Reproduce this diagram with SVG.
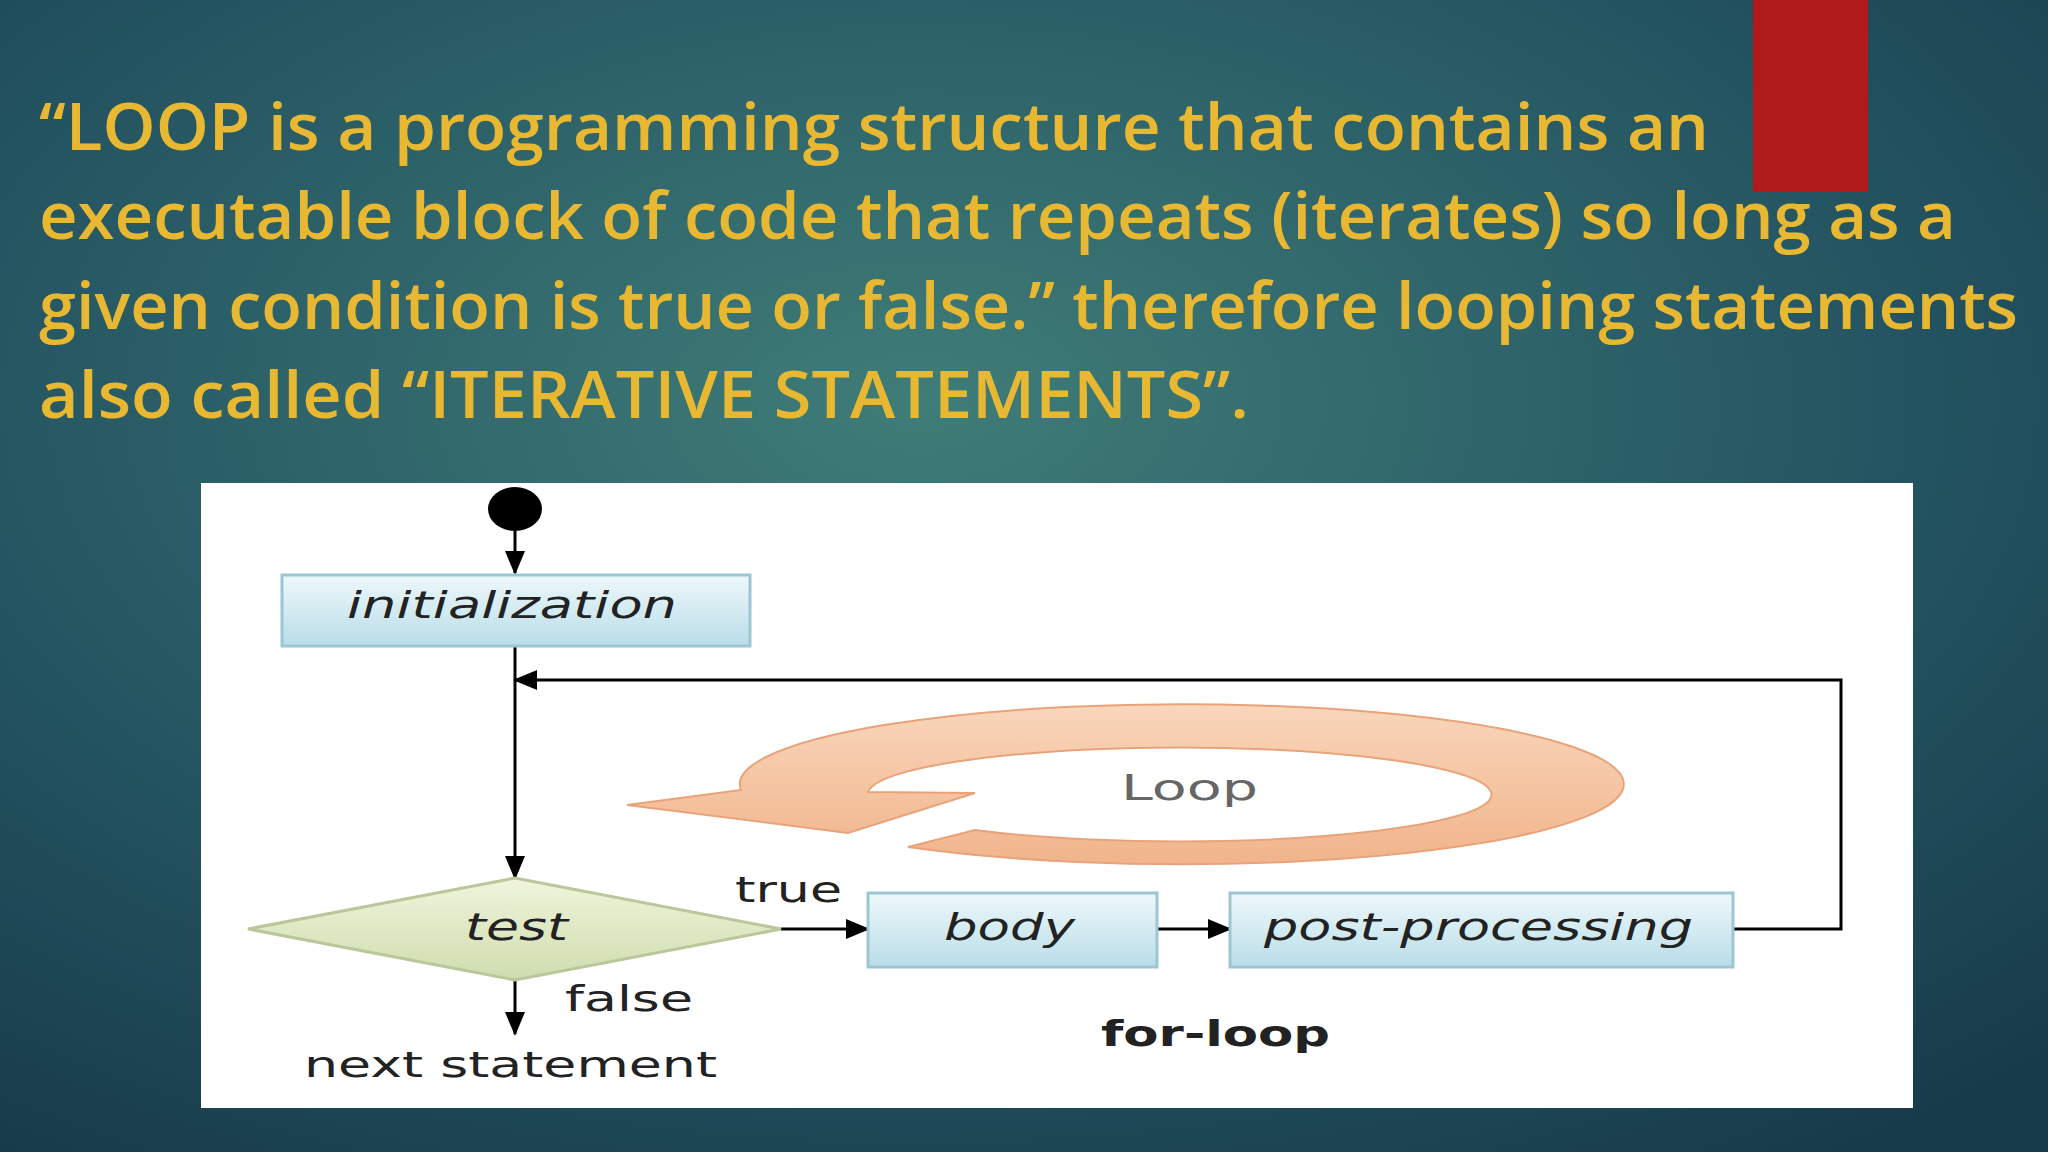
<svg xmlns="http://www.w3.org/2000/svg" width="2048" height="1152" viewBox="0 0 2048 1152">
<defs>
<radialGradient id="bg" cx="0.45" cy="0.35" r="0.8">
<stop offset="0" stop-color="#3f7d78"/><stop offset="0.6" stop-color="#245461"/><stop offset="1" stop-color="#173a4a"/>
</radialGradient>
<linearGradient id="box" x1="0" y1="0" x2="0" y2="1">
<stop offset="0" stop-color="#eef8fb"/><stop offset="1" stop-color="#b9dde8"/>
</linearGradient>
<linearGradient id="dia" x1="0" y1="0" x2="0" y2="1">
<stop offset="0" stop-color="#f0f5dc"/><stop offset="1" stop-color="#cfdcae"/>
</linearGradient>
<linearGradient id="peach" x1="0" y1="0" x2="0" y2="1">
<stop offset="0" stop-color="#f9d6bb"/><stop offset="1" stop-color="#f1b48b"/>
</linearGradient>
<marker id="ah" markerWidth="24" markerHeight="20" refX="22" refY="10" orient="auto" markerUnits="userSpaceOnUse" viewBox="0 0 24 20">
<path d="M0,0 L24,10 L0,20 z" fill="#000"/>
</marker>
<style>
.t{font-family:"Open Sans","Liberation Sans",sans-serif;font-weight:600;font-size:66px;fill:#e9b832}
.b{fill:url(#box);stroke:#9cc6d4;stroke-width:3}
.l{font-family:"DejaVu Sans",sans-serif;font-size:38px;fill:#222;font-style:italic}
.n{font-family:"DejaVu Sans",sans-serif;font-size:36px;fill:#222}
.c{stroke:#000;stroke-width:3;fill:none}
</style>
</defs>
<rect width="2048" height="1152" fill="url(#bg)"/>
<rect x="1753" y="0" width="115" height="192" fill="#b01a1a"/>
<g id="title">
<text class="t" x="39" y="150" textLength="1670" lengthAdjust="spacingAndGlyphs">“LOOP  is a programming structure that contains an</text>
<text class="t" x="39" y="239" textLength="1917" lengthAdjust="spacingAndGlyphs">executable block of code that repeats (iterates) so long as a</text>
<text class="t" x="39" y="329" textLength="1979" lengthAdjust="spacingAndGlyphs">given condition is true or false.” therefore looping statements</text>
<text class="t" x="39" y="418" textLength="1210" lengthAdjust="spacingAndGlyphs">also called “ITERATIVE STATEMENTS”.</text>
</g>
<rect x="201" y="483" width="1712" height="625" fill="#fff"/>
<g id="loopswirl">
<path d="M908 847 A 442 80 0 1 0 741 790 L 627 805 L 848 833 L 975 793 L 868 792 A 312 47 0 1 1 975 830 Z" fill="url(#peach)" stroke="#e9a37a" stroke-width="2"/>
<text x="1121" y="800" class="n" style="fill:#666" textLength="137" lengthAdjust="spacingAndGlyphs">Loop</text>
</g>
<g id="connectors">
<line class="c" x1="515" y1="529" x2="515" y2="573" marker-end="url(#ah)"/>
<line class="c" x1="515" y1="646" x2="515" y2="878" marker-end="url(#ah)"/>
<polyline class="c" points="1733,929 1841,929 1841,680 515,680" marker-end="url(#ah)"/>
<line class="c" x1="781" y1="929" x2="868" y2="929" marker-end="url(#ah)"/>
<line class="c" x1="1157" y1="929" x2="1230" y2="929" marker-end="url(#ah)"/>
<line class="c" x1="515" y1="980" x2="515" y2="1034" marker-end="url(#ah)"/>
</g>
<g id="start"><ellipse cx="515" cy="509" rx="27" ry="22" fill="#000"/></g>
<g id="init"><rect class="b" x="282" y="575" width="468" height="71"/><text class="l" x="347" y="618" textLength="330" lengthAdjust="spacingAndGlyphs">initialization</text></g>
<g id="test"><polygon points="248,929 515,878 781,929 515,980" fill="url(#dia)" stroke="#b9c79a" stroke-width="3"/><text class="l" x="465" y="940" textLength="103" lengthAdjust="spacingAndGlyphs">test</text></g>
<g id="body"><rect class="b" x="868" y="893" width="289" height="74"/><text class="l" x="944" y="940" textLength="131" lengthAdjust="spacingAndGlyphs">body</text></g>
<g id="post"><rect class="b" x="1230" y="893" width="503" height="74"/><text class="l" x="1264" y="940" textLength="429" lengthAdjust="spacingAndGlyphs">post-processing</text></g>
<g id="labels">
<text class="n" x="735" y="902" textLength="107" lengthAdjust="spacingAndGlyphs">true</text>
<text class="n" x="565" y="1011" textLength="128" lengthAdjust="spacingAndGlyphs">false</text>
<text class="n" x="304" y="1077" textLength="413" lengthAdjust="spacingAndGlyphs">next statement</text>
<text class="n" x="1101" y="1046" style="font-weight:bold" textLength="229" lengthAdjust="spacingAndGlyphs">for-loop</text>
</g>
</svg>
